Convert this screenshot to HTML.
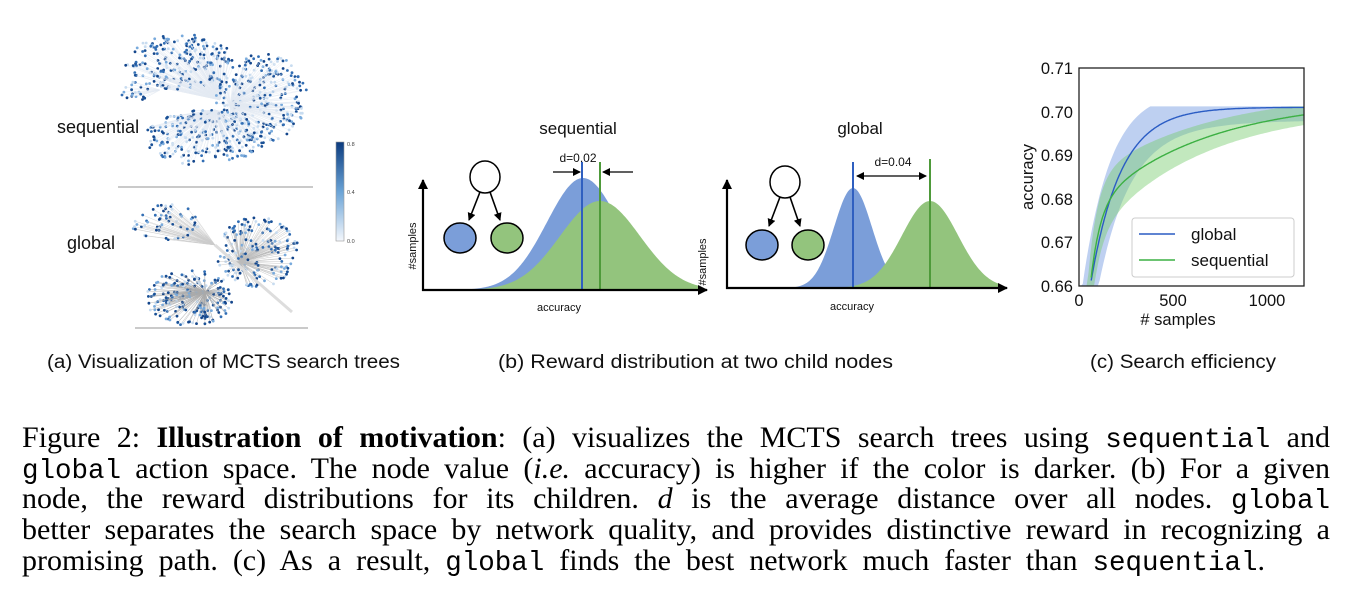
<!DOCTYPE html>
<html><head><meta charset="utf-8"><style>
body{margin:0;background:#fff;width:1348px;height:603px;overflow:hidden;position:relative;font-family:"Liberation Sans",sans-serif;}
#cap{position:absolute;left:22px;top:423px;width:1308px;font-family:"Liberation Serif",serif;font-size:30px;line-height:30.7px;color:#000}
#cap div{text-align:justify;text-align-last:justify;white-space:nowrap;height:30.7px}
#cap div.l{width:1243px}
#cap .m{font-family:"Liberation Mono",monospace;font-size:27.5px}
</style></head><body>
<svg id="sv" width="1348" height="603" style="position:absolute;left:0;top:0" xmlns="http://www.w3.org/2000/svg">
<defs>
<linearGradient id="cb" x1="0" y1="1" x2="0" y2="0"><stop offset="0" stop-color="#f4f7fc"/><stop offset="0.5" stop-color="#6aa3d6"/><stop offset="1" stop-color="#0b3b7e"/></linearGradient>
<marker id="ah" markerWidth="8" markerHeight="8" refX="7" refY="4" orient="auto" markerUnits="userSpaceOnUse"><path d="M0,0 L8,4 L0,8 z" fill="#000"/></marker>
<marker id="ah2" markerWidth="10" markerHeight="10" refX="9" refY="5" orient="auto" markerUnits="userSpaceOnUse"><path d="M0,0 L10,5 L0,10 z" fill="#000"/></marker>
</defs>
<g id="trees"></g>
<line x1="118" y1="187" x2="313" y2="187" stroke="#aaa" stroke-width="1.2"/>
<line x1="135" y1="328" x2="308" y2="328" stroke="#aaa" stroke-width="1.2"/>
<text x="57" y="133" font-size="18" fill="#111">sequential</text>
<text x="67" y="249" font-size="18" fill="#111">global</text>
<rect x="336" y="142" width="8" height="99" fill="url(#cb)" stroke="#999" stroke-width="0.6"/>
<text x="347" y="146" font-size="5.5" fill="#444">0.8</text>
<text x="347" y="194" font-size="5.5" fill="#444">0.4</text>
<text x="347" y="243" font-size="5.5" fill="#444">0.0</text>

<path id="sb" fill="#7b9ed9"/><path id="sg" fill="#93c47d"/>
<line x1="582" y1="162" x2="582" y2="290" stroke="#2f5fc0" stroke-width="2"/>
<line x1="600" y1="162" x2="600" y2="290" stroke="#4e9a3a" stroke-width="2"/>
<line x1="553" y1="172" x2="580" y2="172" stroke="#000" stroke-width="1.3" marker-end="url(#ah)"/>
<line x1="633" y1="172" x2="603" y2="172" stroke="#000" stroke-width="1.3" marker-end="url(#ah)"/>
<line x1="423" y1="291" x2="423" y2="180" stroke="#000" stroke-width="2.2" marker-end="url(#ah2)"/>
<line x1="422" y1="290" x2="707" y2="290" stroke="#000" stroke-width="2.2" marker-end="url(#ah2)"/>
<ellipse cx="485" cy="177" rx="15" ry="16" fill="#fff" stroke="#000" stroke-width="1.5"/>
<line x1="480" y1="192" x2="469" y2="220" stroke="#000" stroke-width="1.6" marker-end="url(#ah)"/>
<line x1="490" y1="192" x2="500" y2="220" stroke="#000" stroke-width="1.6" marker-end="url(#ah)"/>
<ellipse cx="460" cy="238" rx="16" ry="15" fill="#7b9ed9" stroke="#000" stroke-width="1.5"/>
<ellipse cx="507" cy="238" rx="16" ry="15" fill="#93c47d" stroke="#000" stroke-width="1.5"/>
<text x="578" y="134" font-size="17" text-anchor="middle" fill="#111">sequential</text>
<text x="578" y="162" font-size="12" text-anchor="middle" fill="#111">d=0.02</text>
<text x="559" y="311" font-size="11" text-anchor="middle" fill="#111">accuracy</text>
<text transform="translate(416,246) rotate(-90)" font-size="11" text-anchor="middle" fill="#111">#samples</text>

<path id="gb" fill="#7b9ed9"/><path id="gg" fill="#93c47d"/>
<line x1="853" y1="162" x2="853" y2="288" stroke="#2f5fc0" stroke-width="2"/>
<line x1="930" y1="159" x2="930" y2="288" stroke="#4e9a3a" stroke-width="2"/>
<line x1="857" y1="176" x2="926" y2="176" stroke="#000" stroke-width="1.3" marker-end="url(#ah)"/>
<path d="M856,176 L864,172 L864,180 z" fill="#000"/>
<line x1="727" y1="289" x2="727" y2="180" stroke="#000" stroke-width="2.2" marker-end="url(#ah2)"/>
<line x1="726" y1="288" x2="1007" y2="288" stroke="#000" stroke-width="2.2" marker-end="url(#ah2)"/>
<ellipse cx="785" cy="182" rx="15" ry="16" fill="#fff" stroke="#000" stroke-width="1.5"/>
<line x1="780" y1="197" x2="769" y2="226" stroke="#000" stroke-width="1.6" marker-end="url(#ah)"/>
<line x1="790" y1="197" x2="800" y2="226" stroke="#000" stroke-width="1.6" marker-end="url(#ah)"/>
<ellipse cx="762" cy="245" rx="16" ry="15" fill="#7b9ed9" stroke="#000" stroke-width="1.5"/>
<ellipse cx="808" cy="245" rx="16" ry="15" fill="#93c47d" stroke="#000" stroke-width="1.5"/>
<text x="860" y="134" font-size="17" text-anchor="middle" fill="#111">global</text>
<text x="893" y="166" font-size="12" text-anchor="middle" fill="#111">d=0.04</text>
<text x="852" y="310" font-size="11" text-anchor="middle" fill="#111">accuracy</text>
<text transform="translate(706,262) rotate(-90)" font-size="11" text-anchor="middle" fill="#111">#samples</text>

<g id="chart"></g>
<rect x="1079" y="68" width="225" height="218" fill="none" stroke="#222" stroke-width="1.3"/>
<g font-size="16.5" fill="#111" text-anchor="end">
<text x="1073" y="74">0.71</text><text x="1073" y="118">0.70</text><text x="1073" y="161">0.69</text><text x="1073" y="205">0.68</text><text x="1073" y="248">0.67</text><text x="1073" y="292">0.66</text>
</g>
<g font-size="16.5" fill="#111" text-anchor="middle">
<text x="1079" y="306">0</text><text x="1173" y="306">500</text><text x="1267" y="306">1000</text>
<text x="1178" y="325">#&#160;samples</text>
</g>
<text transform="translate(1033,177) rotate(-90)" font-size="16.5" fill="#111" text-anchor="middle">accuracy</text>
<rect x="1132" y="218" width="162" height="59" rx="3" fill="#fff" fill-opacity="0.85" stroke="#ccc"/>
<line x1="1139" y1="234" x2="1175" y2="234" stroke="#2a5cc4" stroke-width="1.5"/>
<line x1="1139" y1="260" x2="1175" y2="260" stroke="#3cb043" stroke-width="1.5"/>
<text x="1191" y="240" font-size="17" fill="#111">global</text>
<text x="1191" y="266" font-size="17" fill="#111">sequential</text>

<g font-size="19" fill="#111">
<text x="47" y="368" textLength="353" lengthAdjust="spacingAndGlyphs">(a) Visualization of MCTS search trees</text>
<text x="498" y="368" textLength="395" lengthAdjust="spacingAndGlyphs">(b) Reward distribution at two child nodes</text>
<text x="1090" y="368" textLength="186" lengthAdjust="spacingAndGlyphs">(c) Search efficiency</text>
</g>
</svg>
<div id="cap">
<div>Figure 2: <b>Illustration of motivation</b>: (a) visualizes the MCTS search trees using <span class="m">sequential</span> and</div>
<div><span class="m">global</span> action space. The node value (<i>i.e.</i> accuracy) is higher if the color is darker. (b) For a given</div>
<div>node, the reward distributions for its children. <i>d</i> is the average distance over all nodes. <span class="m">global</span></div>
<div>better separates the search space by network quality, and provides distinctive reward in recognizing a</div>
<div class="l">promising path. (c) As a result, <span class="m">global</span> finds the best network much faster than <span class="m">sequential</span>.</div>
</div>
<script>
function gauss(id,mu,sig,peak,base,x0,x1){var d="M"+x0+","+base;for(var x=x0;x<=x1;x+=1){d+=" L"+x+","+(base-peak*Math.exp(-0.5*Math.pow((x-mu)/sig,2))).toFixed(1);}d+=" L"+x1+","+base+" Z";document.getElementById(id).setAttribute("d",d);}
gauss("sb",583,36,112,290,424,700);gauss("sg",600,40,89,290,424,700);
gauss("gb",853,19,100,288,728,1000);gauss("gg",930,28,87,288,728,1000);
var NS="http://www.w3.org/2000/svg";
function el(p,t,a){var e=document.createElementNS(NS,t);for(var k in a)e.setAttribute(k,a[k]);p.appendChild(e);return e;}
var s=12345;function r(){s=(s*1103515245+12345)%2147483648;return s/2147483648;}
var T=document.getElementById("trees");
function col(){var v=r();var c=[[200,220,240],[120,170,220],[50,110,180],[25,80,150],[20,70,140]][Math.floor(v*5)];return "rgb("+c.join(",")+")";}
function blob(cx,cy,rx,ry,n,rootx,rooty,lc){for(var i=0;i<n;i++){var a=r()*6.283,d=Math.sqrt(r());var x=cx+Math.cos(a)*rx*d,y=cy+Math.sin(a)*ry*d;el(T,"line",{x1:rootx,y1:rooty,x2:x.toFixed(1),y2:y.toFixed(1),stroke:lc,"stroke-width":0.4});el(T,"circle",{cx:x.toFixed(1),cy:y.toFixed(1),r:1.4,fill:col()});}}
blob(180,62,55,28,220,220,100,"#e3eaf2");blob(262,98,46,45,260,230,105,"#e3eaf2");blob(205,138,60,28,230,215,110,"#e3eaf2");blob(135,92,14,10,20,160,90,"#e3eaf2");
blob(165,222,35,18,60,215,245,"#ccc");blob(258,252,42,35,170,240,262,"#bbb");blob(190,298,44,28,200,205,292,"#aaa");
el(T,"line",{x1:215,y1:245,x2:292,y2:312,stroke:"#ddd","stroke-width":3});
var C=document.getElementById("chart");
function sx(v){return 1079+v*0.1875;}function sy(a){return 286-(a-0.66)*4360;}
function G(v){return 0.701-0.041*Math.exp(-(v-60)/160);}
function S(v){return 0.703-0.018*Math.exp(-(v-60)/50)-0.025*Math.exp(-(v-60)/600);}
function band(f,w,fill,cap){var up=[],lo=[];for(var v=0;v<=1200;v+=10){var m=f(v);var u=Math.min(m+w(v),cap),l=m-w(v);up.push([sx(v),sy(Math.max(Math.min(u,0.7115),0.66))]);lo.push([sx(v),sy(Math.max(l,0.66))]);}
var d="M"+up.map(function(p){return p[0].toFixed(1)+","+p[1].toFixed(1)}).join(" L")+" L"+lo.reverse().map(function(p){return p[0].toFixed(1)+","+p[1].toFixed(1)}).join(" L")+" Z";el(C,"path",{d:d,fill:fill});}
function line(f,stroke){var pts=[];for(var v=55;v<=1200;v+=5){var m=f(v);if(m<0.66)continue;pts.push(sx(v).toFixed(1)+","+sy(m).toFixed(1));}el(C,"polyline",{points:pts.join(" "),fill:"none",stroke:stroke,"stroke-width":1.4});}
band(G,function(v){return 0.003+0.007*Math.exp(-(v-100)/300);},"rgba(110,150,225,0.45)",0.7012);
band(S,function(v){return 0.0018+0.006*Math.exp(-v/500);},"rgba(120,205,110,0.45)",0.7012);
line(G,"#2a5cc4");line(S,"#3cb043");
</script>
</body></html>
